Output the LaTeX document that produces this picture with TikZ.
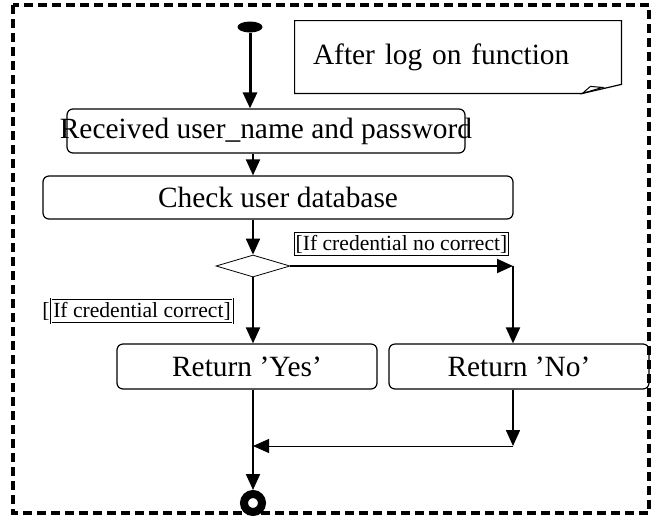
\documentclass[tikz,border=0pt]{standalone}
\usepackage{fontspec}
\setmainfont{Liberation Serif}
\usetikzlibrary{arrows.meta, shapes.geometric}

\tikzset{
	action/.style = {draw, rounded corners=3pt, line width=0.6pt, minimum height=22pt, inner sep=0pt, font=\fontsize{14.7}{17}\selectfont},
	guard/.style = {draw, double, double distance=0.5pt, line width=0.3pt, inner xsep=1pt, inner ysep=1.5pt, font=\fontsize{10.8}{12}\selectfont},
	flow/.style = {line width=1pt, -{Triangle[length=8pt, width=7pt]}},
	thinflow/.style = {line width=0.5pt, -{Triangle[length=8pt, width=7pt]}},
}

\begin{document}
\begin{tikzpicture}[x=0.5pt, y=-0.5pt]
			\useasboundingbox (0,0) rectangle (654,516);
			\draw [line width=1.6pt, dash pattern=on 4.5pt off 2.5pt] (13,5) rectangle (649,513);

			\node [ellipse, fill, minimum width=12.5pt, minimum height=5.5pt, inner sep=0pt] (start) at (250,27) {};

			\node [text width=145pt, inner xsep=9pt, minimum height=36pt, align=left, font=\fontsize{14.7}{17}\selectfont] (note) at (458,57) {After log on function};
			\draw [line width=0.6pt] (note.north west) -- (note.north east) -- ([yshift=4.5pt]note.south east)
				-- ([xshift=-19.5pt]note.south east) -- (note.south west) -- cycle;
			\draw [line width=0.5pt] ([xshift=-19.5pt]note.south east) -- ([xshift=-15.5pt, yshift=3.5pt]note.south east)
				-- ([xshift=-9.5pt, yshift=3pt]note.south east) -- cycle;

			\node [action, minimum width=199pt] (recv) at (266,131) {\makebox[190pt]{Received user\_name and password}};
			\node [action, minimum width=235pt, minimum height=21.5pt] (check) at (278,197.5) {Check user database};
			\node [diamond, draw, line width=0.4pt, minimum width=37pt, minimum height=11pt, inner sep=0pt] (dec) at (253,266) {};
			\node [action, minimum width=130pt, minimum height=22.5pt] (yes) at (247,366.5) {Return 'Yes'};
			\node [action, minimum width=130pt, minimum height=22.5pt] (no) at (519,366.5) {Return 'No'};
			\node [circle, draw, line width=4pt, minimum size=9pt, inner sep=0pt] (final) at (253,503) {};

			\node [guard] (gno) at (401.5,244) {[If credential no correct]};
			\node [guard, label={[font=\fontsize{10.8}{12}\selectfont, inner sep=0.5pt]left:{[}}] (gyes) at (142,311) {If credential correct]};

			\coordinate (brk) at (513,266);
			\coordinate (nojoin) at (513,446);
			\coordinate (mrg) at (253,446);

			\draw [flow, line width=1.5pt] (start) -- (start |- recv.north);
			\draw [flow] (dec |- recv.south) -- (dec |- check.north);
			\draw [flow] (dec |- check.south) -- (dec.north);
			\draw [flow] (dec.east) -- (brk);
			\draw [flow] (brk) -- (brk |- no.north);
			\draw [flow] (dec.south) -- (dec |- yes.north);
			\draw [flow, line width=0.8pt] (nojoin |- no.south) -- (nojoin);
			\draw [thinflow] (nojoin) -- (mrg);
			\draw [flow] (dec |- yes.south) -- (final.north);
		\end{tikzpicture}
\end{document}
